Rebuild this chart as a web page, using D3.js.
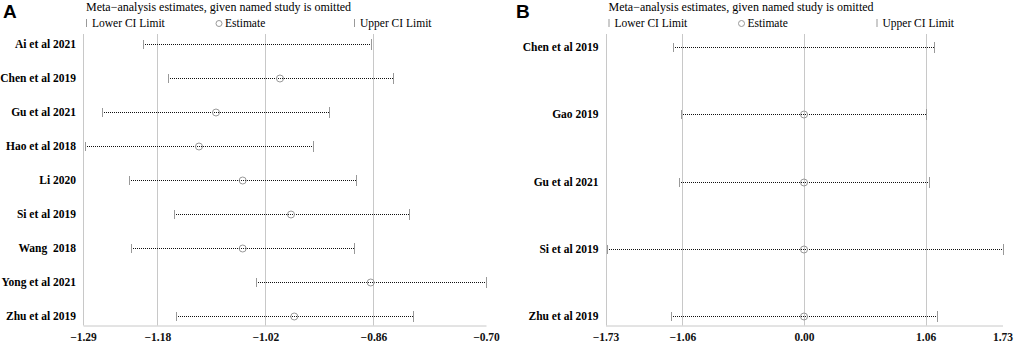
<!DOCTYPE html>
<meta charset="utf-8">
<style>
body { margin: 0; background: #fff; }
text { font-family: "Liberation Serif", "Times New Roman", serif; }
.letter { font-family: "Liberation Sans", Arial, sans-serif; font-weight: bold; font-size: 19px; }
.title { font-size: 12px; }
.legend text { font-size: 11.5px; }
.study { font-size: 11.5px; font-weight: bold; white-space: pre; }
.tick text { font-size: 11.5px; font-weight: bold; fill: #111; }
.grid { stroke: #c8c8c8; stroke-width: 1; }
.ci { stroke: #111; stroke-width: 1.1; stroke-dasharray: 1,1; }
.cap { stroke: #999; stroke-width: 1; }
.est { fill: none; stroke: #999; stroke-width: 1; }
</style>
<body>
<script src="https://cdn.jsdelivr.net/npm/d3@7"></script>
<script>
// panel A
var studiesA = ["Ai et al 2021", "Chen et al 2019", "Gu et al 2021", "Hao et al 2018", "Li 2020",
                "Si et al 2019", "Wang  2018", "Yong et al 2021", "Zhu et al 2019"];
var lowerA = [-1.2016, -1.1646, -1.2623, -1.2870, -1.2215, -1.1553, -1.2194, -1.0343, -1.1528];
var estA   = [-1.0339, -0.9984, -1.0931, -1.1183, -1.0536, -0.9821, -1.0536, -0.8641, -0.9772];
var upperA = [-0.8641, -0.8306, -0.9258, -0.9491, -0.8859, -0.8074, -0.8884, -0.6939, -0.8010];
var ticksA = [-1.29, -1.18, -1.02, -0.86, -0.6934];
var tickLabelsA = ["\u22121.29", "\u22121.18", "\u22121.02", "\u22120.86", "\u22120.70"];

// panel B
var studiesB = ["Chen et al 2019", "Gao 2019", "Gu et al 2021", "Si et al 2019", "Zhu et al 2019"];
var lowerB = [-1.138, -1.071, -1.089, -1.720, -1.159];
var estB   = [0.00, 0.00, 0.00, 0.00, 0.00];
var upperB = [1.135, 1.063, 1.092, 1.730, 1.159];
var ticksB = [-1.73, -1.06, 0.00, 1.06, 1.73];
var tickLabelsB = ["\u22121.73", "\u22121.06", "0.00", "1.06", "1.73"];

var svg = d3.select("body").append("svg")
    .attr("width", 1017)
    .attr("height", 346);

function panel(p) {
  var g = svg.append("g");
  var x = d3.scaleLinear().domain([p.ticks[0], p.ticks[p.ticks.length - 1]]).range([p.x0, p.x1]);
  var y = d3.scalePoint().domain(p.studies).range([p.y0, p.y1]);
  var ry = function(s) { return Math.round(y(s)) + 0.5; };
  var px = function(v) { return Math.round(x(v)) + 0.5; };
  var top = 34, bottom = 325.5;

  g.append("text").attr("class", "letter").attr("x", p.letterX).attr("y", 18).text(p.letter);
  g.append("text").attr("class", "title").attr("x", p.x0 + 3).attr("y", 11)
    .text("Meta\u2212analysis estimates, given named study is omitted");

  // legend
  var lg = g.append("g").attr("class", "legend");
  lg.append("line").attr("class", "cap").attr("x1", p.x0 + 3.5).attr("x2", p.x0 + 3.5).attr("y1", 19).attr("y2", 27);
  lg.append("text").attr("x", p.x0 + 9).attr("y", 27).text("Lower CI Limit");
  lg.append("circle").attr("class", "est").attr("cx", p.x0 + 136).attr("cy", 23.5).attr("r", 3);
  lg.append("text").attr("x", p.x0 + 142).attr("y", 27).text("Estimate");
  lg.append("line").attr("class", "cap").attr("x1", p.x0 + 271.5).attr("x2", p.x0 + 271.5).attr("y1", 19).attr("y2", 27);
  lg.append("text").attr("x", p.x0 + 277).attr("y", 27).text("Upper CI Limit");

  // grid lines
  g.selectAll(".grid").data(p.ticks.slice(1, -1)).enter().append("line")
    .attr("class", "grid")
    .attr("x1", px).attr("x2", px)
    .attr("y1", top).attr("y2", bottom);

  // left axis line
  g.append("line").attr("class", "grid")
    .attr("x1", Math.round(p.x0) + 0.5).attr("x2", Math.round(p.x0) + 0.5).attr("y1", top).attr("y2", bottom);

  // x axis
  var ax = g.append("g").attr("transform", "translate(0," + bottom + ")")
    .call(d3.axisBottom(x).tickValues(p.ticks).tickSize(0).tickPadding(7)
      .tickFormat(function(d, i) { return p.tickLabels[i]; }));
  ax.select(".domain").attr("stroke", "#c8c8c8");

  // study labels
  g.selectAll(".study").data(p.studies).enter().append("text")
    .attr("class", "study")
    .attr("x", p.x0 - 7)
    .attr("y", function(d) { return y(d) + 4; })
    .attr("text-anchor", "end")
    .text(function(d) { return d; });

  var rows = p.studies.map(function(s, i) {
    return {study: s, lo: p.lower[i], est: p.est[i], hi: p.upper[i]};
  });

  g.selectAll(".ci").data(rows).enter().append("line")
    .attr("class", "ci")
    .attr("x1", function(d) { return Math.round(x(d.lo)); })
    .attr("x2", function(d) { return Math.round(x(d.hi)); })
    .attr("y1", function(d) { return ry(d.study); })
    .attr("y2", function(d) { return ry(d.study); });

  g.selectAll(".capl").data(rows).enter().append("line")
    .attr("class", "cap")
    .attr("x1", function(d) { return px(d.lo); })
    .attr("x2", function(d) { return px(d.lo); })
    .attr("y1", function(d) { return ry(d.study) - 4.5; })
    .attr("y2", function(d) { return ry(d.study) + 4.5; });

  g.selectAll(".capu").data(rows).enter().append("line")
    .attr("class", "cap")
    .attr("x1", function(d) { return px(d.hi); })
    .attr("x2", function(d) { return px(d.hi); })
    .attr("y1", function(d) { return ry(d.study) - 5.5; })
    .attr("y2", function(d) { return ry(d.study) + 5.5; });

  g.selectAll(".est").data(rows).enter().append("circle")
    .attr("class", "est")
    .attr("cx", function(d) { return x(d.est); })
    .attr("cy", function(d) { return ry(d.study); })
    .attr("r", 3.5);
}

panel({letter: "A", letterX: 3, studies: studiesA, lower: lowerA, est: estA, upper: upperA,
       ticks: ticksA, tickLabels: tickLabelsA, x0: 83, x1: 486, y0: 44, y1: 316});
panel({letter: "B", letterX: 516, studies: studiesB, lower: lowerB, est: estB, upper: upperB,
       ticks: ticksB, tickLabels: tickLabelsB, x0: 605.5, x1: 1002.5, y0: 47, y1: 316});
</script>
</body>
